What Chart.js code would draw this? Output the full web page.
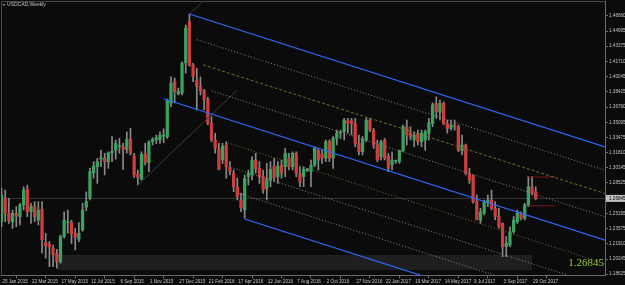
<!DOCTYPE html>
<html>
<head>
<meta charset="utf-8">
<title>USDCAD,Weekly</title>
<script src="https://cdn.jsdelivr.net/npm/chart.js@4.4.0/dist/chart.umd.min.js"></script>
<style>
  html, body { margin: 0; padding: 0; background: #0b0b0b; }
  #wrap { width: 625px; height: 285px; }
</style>
</head>
<body>
<div id="wrap"><canvas id="usdcadChart" width="625" height="285"></canvas></div>
<script>
// Weekly USDCAD candles, first bar = week of 25 Jan 2015 (x = week number)
const opens = [
  1.2432, 1.2686, 1.2523, 1.2432, 1.2523, 1.2486, 1.2613, 1.2786, 1.2540, 1.2595,
  1.2450, 1.2566, 1.2204, 1.2187, 1.2143, 1.2082, 1.1998, 1.2269, 1.2420, 1.2421,
  1.2306, 1.2241, 1.2342, 1.2588, 1.2686, 1.2963, 1.3028, 1.3109, 1.3120, 1.3083,
  1.3174, 1.3209, 1.3245, 1.3245, 1.3217, 1.3328, 1.3144, 1.2949, 1.2892, 1.3166,
  1.3072, 1.3299, 1.3318, 1.3318, 1.3360, 1.3354, 1.3719, 1.3950, 1.3817, 1.3828,
  1.4153, 1.4601, 1.4131, 1.3969, 1.3896, 1.3853, 1.3759, 1.3499, 1.3318, 1.3217,
  1.3101, 1.3264, 1.3022, 1.2957, 1.2811, 1.2667, 1.2559, 1.2920, 1.2938, 1.3101,
  1.3011, 1.2920, 1.2794, 1.2884, 1.3036, 1.2920, 1.3047, 1.3028, 1.3120, 1.3028,
  1.3174, 1.2957, 1.2920, 1.2989, 1.2974, 1.3047, 1.3202, 1.3166, 1.3120, 1.3299,
  1.3120, 1.3336, 1.3394, 1.3408, 1.3527, 1.3527, 1.3499, 1.3282, 1.3191, 1.3318,
  1.3535, 1.3419, 1.3264, 1.3137, 1.3318, 1.3137, 1.3047, 1.3087, 1.3083, 1.3202,
  1.3462, 1.3394, 1.3318, 1.3391, 1.3299, 1.3318, 1.3391, 1.3499, 1.3716, 1.3620,
  1.3716, 1.3499, 1.3445, 1.3481, 1.3462, 1.3202, 1.3264, 1.2957, 1.2928, 1.2649,
  1.2450, 1.2523, 1.2638, 1.2667, 1.2577, 1.2486, 1.2414, 1.2161, 1.2179, 1.2323,
  1.2432, 1.2523, 1.2469, 1.2613, 1.2811, 1.2757
];
const highs = [
  1.2794, 1.2776, 1.2686, 1.2559, 1.2595, 1.2632, 1.2811, 1.2830, 1.2632, 1.2649,
  1.2649, 1.2649, 1.2306, 1.2215, 1.2179, 1.2133, 1.2287, 1.2540, 1.2559, 1.2450,
  1.2360, 1.2421, 1.2632, 1.2757, 1.3011, 1.3083, 1.3120, 1.3209, 1.3174, 1.3191,
  1.3354, 1.3318, 1.3336, 1.3282, 1.3408, 1.3445, 1.3174, 1.2993, 1.3191, 1.3282,
  1.3310, 1.3343, 1.3372, 1.3408, 1.3440, 1.3763, 1.4004, 1.3990, 1.3882, 1.4167,
  1.4565, 1.4685, 1.4150, 1.4096, 1.4004, 1.3868, 1.3781, 1.3571, 1.3391, 1.3282,
  1.3282, 1.3299, 1.3083, 1.2993, 1.2906, 1.2743, 1.2938, 1.2993, 1.3137, 1.3174,
  1.3083, 1.2993, 1.3065, 1.3083, 1.3120, 1.3083, 1.3101, 1.3228, 1.3174, 1.3191,
  1.3191, 1.3028, 1.3028, 1.3011, 1.3101, 1.3245, 1.3228, 1.3209, 1.3318, 1.3318,
  1.3354, 1.3426, 1.3426, 1.3553, 1.3553, 1.3553, 1.3553, 1.3372, 1.3354, 1.3553,
  1.3553, 1.3445, 1.3318, 1.3318, 1.3336, 1.3174, 1.3191, 1.3101, 1.3209, 1.3481,
  1.3535, 1.3462, 1.3408, 1.3426, 1.3426, 1.3426, 1.3553, 1.3720, 1.3787, 1.3752,
  1.3733, 1.3535, 1.3535, 1.3535, 1.3481, 1.3372, 1.3275, 1.3011, 1.2938, 1.2721,
  1.2577, 1.2667, 1.2721, 1.2776, 1.2649, 1.2577, 1.2420, 1.2269, 1.2377, 1.2486,
  1.2559, 1.2540, 1.2632, 1.2920, 1.2920, 1.2811
];
const lows = [
  1.2377, 1.2432, 1.2414, 1.2360, 1.2377, 1.2396, 1.2559, 1.2486, 1.2414, 1.2432,
  1.2396, 1.2089, 1.2035, 1.1944, 1.1944, 1.1927, 1.1981, 1.2252, 1.2306, 1.2197,
  1.2125, 1.2215, 1.2330, 1.2551, 1.2667, 1.2903, 1.2848, 1.3028, 1.2938, 1.3011,
  1.3083, 1.3109, 1.3174, 1.3000, 1.3174, 1.3155, 1.2913, 1.2830, 1.2884, 1.3047,
  1.2974, 1.3264, 1.3282, 1.3282, 1.3290, 1.3336, 1.3679, 1.3719, 1.3806, 1.3806,
  1.4044, 1.4120, 1.3950, 1.3643, 1.3806, 1.3643, 1.3481, 1.3299, 1.3174, 1.2993,
  1.3065, 1.2903, 1.2938, 1.2757, 1.2667, 1.2540, 1.2469, 1.2830, 1.2884, 1.2957,
  1.2848, 1.2740, 1.2667, 1.2811, 1.2866, 1.2848, 1.2903, 1.2920, 1.2993, 1.2993,
  1.2920, 1.2811, 1.2811, 1.2974, 1.2811, 1.3028, 1.2993, 1.3065, 1.3083, 1.3083,
  1.3011, 1.3264, 1.3336, 1.3318, 1.3391, 1.3372, 1.3245, 1.3155, 1.3155, 1.3299,
  1.3408, 1.3228, 1.3083, 1.3101, 1.3101, 1.2974, 1.2993, 1.3065, 1.3065, 1.3191,
  1.3264, 1.3318, 1.3245, 1.3264, 1.3245, 1.3209, 1.3318, 1.3462, 1.3553, 1.3535,
  1.3481, 1.3391, 1.3426, 1.3426, 1.3191, 1.3155, 1.2938, 1.2848, 1.2632, 1.2504,
  1.2414, 1.2504, 1.2595, 1.2559, 1.2450, 1.2360, 1.2052, 1.2052, 1.2161, 1.2306,
  1.2414, 1.2450, 1.2450, 1.2595, 1.2721, 1.2667
];
const closes = [
  1.2721, 1.2523, 1.2443, 1.2523, 1.2494, 1.2613, 1.2776, 1.2540, 1.2602, 1.2486,
  1.2559, 1.2233, 1.2168, 1.2154, 1.2071, 1.1998, 1.2269, 1.2450, 1.2425, 1.2298,
  1.2263, 1.2306, 1.2559, 1.2649, 1.2974, 1.3036, 1.3083, 1.3126, 1.3083, 1.3180,
  1.3199, 1.3282, 1.3253, 1.3217, 1.3325, 1.3174, 1.2938, 1.2913, 1.3163, 1.3072,
  1.3299, 1.3325, 1.3343, 1.3372, 1.3370, 1.3752, 1.3936, 1.3842, 1.3842, 1.4150,
  1.4533, 1.4131, 1.4004, 1.3896, 1.3853, 1.3759, 1.3499, 1.3318, 1.3228, 1.3000,
  1.3253, 1.3028, 1.2974, 1.2811, 1.2703, 1.2580, 1.2903, 1.2957, 1.3101, 1.3011,
  1.2920, 1.2776, 1.2884, 1.3000, 1.2903, 1.3036, 1.2957, 1.3174, 1.3028, 1.3174,
  1.2957, 1.2866, 1.3000, 1.2996, 1.3047, 1.3228, 1.3101, 1.3120, 1.3299, 1.3120,
  1.3336, 1.3397, 1.3397, 1.3535, 1.3499, 1.3499, 1.3282, 1.3191, 1.3325, 1.3535,
  1.3426, 1.3264, 1.3101, 1.3299, 1.3120, 1.3011, 1.3101, 1.3091, 1.3202, 1.3462,
  1.3372, 1.3354, 1.3372, 1.3299, 1.3391, 1.3408, 1.3505, 1.3700, 1.3625, 1.3716,
  1.3499, 1.3445, 1.3481, 1.3462, 1.3209, 1.3264, 1.2957, 1.2884, 1.2649, 1.2450,
  1.2540, 1.2649, 1.2667, 1.2577, 1.2486, 1.2377, 1.2161, 1.2197, 1.2323, 1.2450,
  1.2523, 1.2469, 1.2613, 1.2811, 1.2740, 1.26845
];

const lastPrice = 1.26845;

// axis ticks
const xTickWeeks = [0, 8, 16, 24, 32, 40, 48, 56, 64, 72, 80, 88, 96, 104, 112, 120, 128, 136, 144];
const xTickLabels = [
  '25 Jan 2015', '22 Mar 2015', '17 May 2015', '12 Jul 2015', '6 Sep 2015', '1 Nov 2015',
  '27 Dec 2015', '21 Feb 2016', '17 Apr 2016', '12 Jun 2016', '7 Aug 2016', '2 Oct 2016',
  '27 Nov 2016', '22 Jan 2017', '19 Mar 2017', '14 May 2017', '9 Jul 2017', '3 Sep 2017',
  '29 Oct 2017'
];
const yTickValues = [
  1.46660, 1.44995, 1.43375, 1.41710, 1.40045, 1.38425, 1.36760, 1.35095, 1.33475,
  1.31810, 1.30145, 1.28525, 1.26860, 1.25195, 1.23575, 1.21910, 1.20245, 1.18625
];
const yTickLabels = [
  '1.46660', '1.44995', '1.43375', '1.41710', '1.40045', '1.38425', '1.36760', '1.35095', '1.33475',
  '1.31810', '1.30145', '1.28525', '1.26860', '1.25195', '1.23575', '1.21910', '1.20245', '1.18625'
];

// pitchfork drawn on the chart: [week, price] end points
const blueUpper = [[51, 1.4685], [164, 1.3240]];
const blueMiddle = [[44, 1.3765], [164, 1.2230]];
const blueLower = [[66, 1.2461], [164, 1.1208]];
const upper25 = [[53, 1.4407], [164, 1.2988]];
const upper50 = [[54.7, 1.4133], [164, 1.2735]];
const upper75 = [[57.1, 1.3850], [164, 1.2483]];
const lower25 = [[61.5, 1.3286], [164, 1.1975]];
const lower50 = [[63, 1.3012], [164, 1.1720]];
const lower75 = [[64.5, 1.2738], [164, 1.1465]];
// thin trend lines
const trendFromLow = [[37, 1.2830], [64, 1.3860]];
const trendFromHigh = [[51, 1.4685], [55.2, 1.4836]];
// last swing box
const boxTop = [[143, 1.2916], [150.3, 1.2916]];
const boxBottom = [[143, 1.2605], [150.3, 1.2605]];

// support zone rectangle: weeks and price range
const zoneWeeks = [15, 144];
const zonePrices = [1.1908, 1.2071];

const UP = '#3aa35f';
const DOWN = '#cf3e3e';
const WICK = '#8a8a8a';
const AXIS = '#6a6a6a';
const TEXT = '#c4c4c4';
const BLUE = '#2f6bff';
const DOTS = '#8a8a7a';
const OLIVE = '#6e7030';
const THIN = '#3c3c3c';
const BOXRED = '#7a1a1a';

const weeks = opens.map((_, i) => i);
const wickData = weeks.map(i => ({ x: i, y: [lows[i], highs[i]] }));
const bodyData = weeks.map(i => ({ x: i, y: [opens[i], closes[i]] }));

function lineSet(points, color, width, dash) {
  return {
    type: 'line',
    data: points.map(p => ({ x: p[0], y: p[1] })),
    borderColor: color,
    borderWidth: width,
    borderDash: dash || [],
    pointRadius: 0,
    fill: false,
    tension: 0,
    order: 0
  };
}

// extra drawing: frame, zone, bid line, labels
const chartDecor = {
  id: 'chartDecor',
  beforeDatasetsDraw(chart) {
    const { ctx, chartArea: a, scales: { x, y } } = chart;
    ctx.save();
    // zone rectangle
    const zx0 = x.getPixelForValue(zoneWeeks[0]);
    const zx1 = x.getPixelForValue(zoneWeeks[1]);
    const zy0 = y.getPixelForValue(zonePrices[1]);
    const zy1 = y.getPixelForValue(zonePrices[0]);
    ctx.fillStyle = '#1f1f1f';
    ctx.fillRect(zx0, zy0, zx1 - zx0, zy1 - zy0);
    // bid line
    const by = Math.round(y.getPixelForValue(lastPrice)) + 0.5;
    ctx.strokeStyle = '#333333';
    ctx.lineWidth = 1;
    ctx.beginPath();
    ctx.moveTo(a.left, by);
    ctx.lineTo(a.right, by);
    ctx.stroke();
    // frame top / left
    ctx.strokeStyle = '#4a4a4a';
    ctx.beginPath();
    ctx.moveTo(a.left + 0.5, a.bottom);
    ctx.lineTo(a.left + 0.5, a.top + 0.5);
    ctx.lineTo(a.right, a.top + 0.5);
    ctx.stroke();
    ctx.restore();
  },
  afterDraw(chart) {
    const { ctx, chartArea: a, scales: { y } } = chart;
    ctx.save();
    // current price box on the axis
    const py = y.getPixelForValue(lastPrice);
    ctx.fillStyle = '#c0c0c0';
    ctx.fillRect(a.right + 1, py - 3.5, 19, 7);
    ctx.fillStyle = '#000000';
    ctx.font = '4.6px "Liberation Sans"';
    ctx.textBaseline = 'middle';
    ctx.textAlign = 'left';
    ctx.fillText(lastPrice.toFixed(5), a.right + 4, py);
    // big price text
    ctx.fillStyle = '#9acd32';
    ctx.font = '11px "Liberation Serif"';
    ctx.textAlign = 'right';
    ctx.textBaseline = 'alphabetic';
    ctx.fillText(lastPrice.toFixed(5), a.right - 1, 266);
    // title
    ctx.fillStyle = '#9a9a9a';
    ctx.beginPath();
    ctx.moveTo(2.5, 4);
    ctx.lineTo(5.5, 4);
    ctx.lineTo(4, 6);
    ctx.closePath();
    ctx.fill();
    ctx.fillStyle = TEXT;
    ctx.font = '5px "Liberation Sans"';
    ctx.textAlign = 'left';
    ctx.textBaseline = 'middle';
    ctx.fillText('USDCAD,Weekly', 7, 5);
    ctx.restore();
  }
};

const tickFont = { family: 'Liberation Sans', size: 4.6 };

new Chart(document.getElementById('usdcadChart'), {
  type: 'bar',
  data: {
    datasets: [
      lineSet(blueUpper, BLUE, 1.2),
      lineSet(blueMiddle, BLUE, 1.2),
      lineSet(blueLower, BLUE, 1.2),
      lineSet(upper25, DOTS, 1, [1, 2]),
      lineSet(upper50, OLIVE, 1, [3, 2]),
      lineSet(upper75, DOTS, 1, [1, 2]),
      lineSet(lower25, OLIVE, 1, [1, 2]),
      lineSet(lower50, DOTS, 1, [1, 2]),
      lineSet(lower75, DOTS, 1, [1, 2]),
      lineSet(trendFromLow, THIN, 1),
      lineSet(trendFromHigh, THIN, 1),
      lineSet(boxTop, BOXRED, 1),
      lineSet(boxBottom, BOXRED, 1),
      {
        type: 'bar',
        data: bodyData,
        grouped: false,
        barThickness: 2.6,
        minBarLength: 1,
        backgroundColor: c => closes[c.dataIndex] >= opens[c.dataIndex] ? UP : DOWN,
        borderWidth: 0,
        order: 1
      },
      {
        type: 'bar',
        data: wickData,
        grouped: false,
        barThickness: 1,
        backgroundColor: WICK,
        borderWidth: 0,
        order: 2
      }
    ]
  },
  options: {
    responsive: false,
    animation: false,
    devicePixelRatio: 1,
    layout: { padding: { left: 1, top: 1, right: 0, bottom: 0 } },
    plugins: {
      legend: { display: false },
      tooltip: { enabled: false },
      title: { display: false }
    },
    scales: {
      x: {
        type: 'linear',
        position: 'bottom',
        min: -0.14,
        max: 163.8,
        offset: false,
        afterBuildTicks: s => { s.ticks = xTickWeeks.map(v => ({ value: v })); },
        afterFit: s => { s.height = 9.5; s.paddingLeft = 0; s.paddingRight = 0; },
        ticks: {
          callback: (v, i) => xTickLabels[i],
          autoSkip: false,
          maxRotation: 0,
          minRotation: 0,
          align: 'start',
          labelOffset: 1,
          padding: 0,
          color: TEXT,
          font: tickFont
        },
        grid: { drawOnChartArea: false, drawTicks: true, tickLength: 3, color: AXIS },
        border: { display: true, color: AXIS, width: 1 }
      },
      y: {
        type: 'linear',
        position: 'right',
        min: 1.1848,
        max: 1.4826,
        afterBuildTicks: s => { s.ticks = yTickValues.map(v => ({ value: v })); },
        afterFit: s => { s.width = 20; s.paddingTop = 0; s.paddingBottom = 0; },
        ticks: {
          callback: (v, i) => yTickLabels[i],
          crossAlign: 'near',
          padding: 1,
          color: TEXT,
          font: tickFont
        },
        grid: { drawOnChartArea: false, drawTicks: true, tickLength: 3, color: AXIS },
        border: { display: true, color: AXIS, width: 1 }
      }
    }
  },
  plugins: [chartDecor]
});
</script>
</body>
</html>
